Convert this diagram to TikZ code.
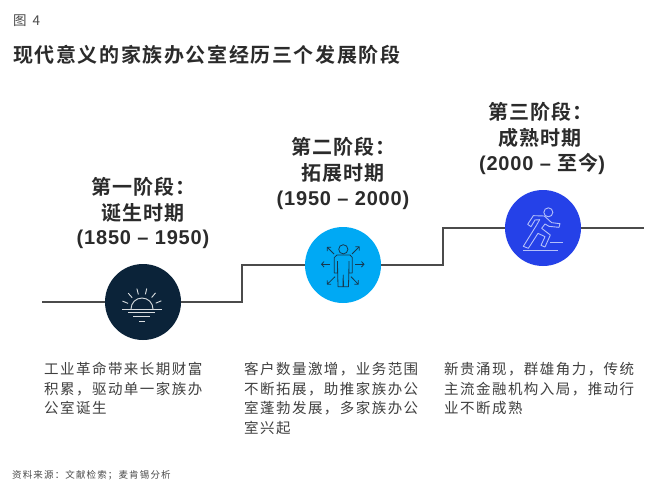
\documentclass[tikz,border=0pt]{standalone}
\usepackage{fontspec}
\setmainfont{Liberation Sans}
\newfontfamily\cjk{Noto Sans CJK SC}
\newfontfamily\cjkwide[LetterSpace=10]{Noto Sans CJK SC}
\newfontfamily\cjkhead[LetterSpace=5,BoldFont={Noto Sans CJK SC Bold}]{Noto Sans CJK SC}
\usetikzlibrary{arrows.meta,positioning}
\definecolor{ink}{HTML}{2B2B2B}
\definecolor{navy}{HTML}{0B2339}
\definecolor{sky}{HTML}{00A9F4}
\definecolor{royal}{HTML}{2541E8}
\definecolor{pale}{HTML}{B4C0FA}
\definecolor{iconline}{HTML}{17384F}

\begin{document}
\begin{tikzpicture}[x=1pt,y=-1pt,
 stage/.style={circle,inner sep=0pt,minimum size=76pt},
 rung/.style={line width=1.1pt,draw=ink!85},
 head/.style={inner sep=0pt,align=center,text=ink,font=\fontsize{20}{26}\selectfont\bfseries\cjkhead},
 years/.style={inner sep=0pt,text=ink,font=\fontsize{20}{22}\selectfont\bfseries\addfontfeature{LetterSpace=4}},
 desc/.style={inner sep=0pt,anchor=north west,align=left,text=ink!90,font=\fontsize{14.5}{19.7}\selectfont\cjkwide},
 sunline/.style={draw=white!85!navy,line width=.9pt},
 pers/.style={draw=iconline,line width=.8pt},
 pout/.style={pers,-{Straight Barb[length=2.5pt,width=5.5pt]}},
 runl/.style={draw=pale,line width=.9pt,line join=round}
]
\useasboundingbox (0,0) rectangle (647,492);
\fill[white] (0,0) rectangle (647,492);

\node[inner sep=0pt,anchor=west,text=ink!85,font=\fontsize{13.5}{16}\selectfont\cjk] (fig) at (13,21) {图\ \ 4};
\node[inner sep=0pt,anchor=west,text=ink,font=\fontsize{20}{24}\selectfont\bfseries\cjkhead\addfontfeature{LetterSpace=8}] (title) at (13,55) {现代意义的家族办公室经历三个发展阶段};

% stairs
\coordinate (begin) at (42,302);
\coordinate (finish) at (644,228);
\node[stage,fill=navy] (sun) at (143,302) {};
\node[stage,fill=sky] (people) at (343,265) {};
\node[stage,fill=royal] (runner) at (543,228) {};
\draw[rung] (begin) -- (sun);
\draw[rung] (sun.east) -- (242,302) -- (242,265) -- (people.west);
\draw[rung] (people.east) -- (443,265) -- (443,228) -- (runner.west);
\draw[rung] (runner) -- (finish);

% sun icon
\begin{scope}[shift={(142,309)}]
\draw[sunline] (-20,0) -- (20,0);
\draw[sunline] (-14,3.3) -- (13,3.3);
\draw[sunline] (-9,7.5) -- (8,7.5);
\draw[sunline] (-3,12) -- (3,12);
\draw[sunline] (-11,0) arc[start angle=180,end angle=0,x radius=11,y radius=-11];
\foreach \a in {18,45,72,99,126,153}
 \draw[sunline] ({15*cos(\a+5)},{-15*sin(\a+5)}) -- ({21*cos(\a+5)},{-21*sin(\a+5)});
\end{scope}

% person icon
\draw[pers] (343.3,249.3) circle[radius=4.6];
\draw[pers,line join=round] (337,255) -- (350,255) -- (352.3,257.5) -- (352.3,273) -- (349,273) -- (349,261)
 (349,264) -- (348.5,286.7) -- (343.5,286.7) -- (343.2,275) -- (343,286.7) -- (338,286.7) -- (337.5,264)
 (337.5,261) -- (337.5,273) -- (334.3,273) -- (334.3,257.5) -- (337,255);
\draw[pout] (330,264.3) -- (321,264.3);
\draw[pout] (355,264.3) -- (364.5,264.3);
\draw[pout] (334,254) -- (327,247);
\draw[pout] (352,254) -- (359.5,246.5);
\draw[pout] (335,276.7) -- (327,284.5);
\draw[pout] (351,276.7) -- (358.5,284.5);

% runner icon
\begin{scope}[shift={(495,185)},x=.3333pt,y=-.3333pt]
\draw[runl] (160,82) circle[radius=13.5];
\draw[runl] (98,118) -- (115,92) -- (148,93) -- (170,113) -- (195,116) -- (192,127) -- (162,124) -- (150,117)
 -- (140,130) -- (166,150) -- (150,186) -- (138,181) -- (150,155) -- (129,145) -- (100,190) -- (85,184)
 -- (125,120) -- (134,104) -- (120,105) -- (108,125) -- cycle;
\draw[runl] (165,171) -- (205,171);
\draw[runl] (85,197) -- (188,197);
\end{scope}

% headings
\node[head] (one) at (143,200) {第一阶段：\\诞生时期};
\node[years] (oney) at (143,239) {(1850 – 1950)};
\node[head] (two) at (343,160) {第二阶段：\\拓展时期};
\node[years] (twoy) at (343,200) {(1950 – 2000)};
\node[head] (three) at (540,125) {第三阶段：\\成熟时期};
\node[years] (threey) at (542,164) {(2000 – {\cjkhead 至今})};

% text below
\node[desc] (onetxt) at (44,362) {工业革命带来长期财富\\积累，驱动单一家族办\\公室诞生};
\node[desc] (twotxt) at (244,362) {客户数量激增，业务范围\\不断拓展，助推家族办公\\室蓬勃发展，多家族办公\\室兴起};
\node[desc] (threetxt) at (444,362) {新贵涌现，群雄角力，传统\\主流金融机构入局，推动行\\业不断成熟};
\node[inner sep=0pt,anchor=west,text=ink!85,font=\fontsize{9.5}{11}\selectfont\cjk\addfontfeature{LetterSpace=12}] (src) at (12,475.5) {资料来源：文献检索；麦肯锡分析};
\end{tikzpicture}
\end{document}
